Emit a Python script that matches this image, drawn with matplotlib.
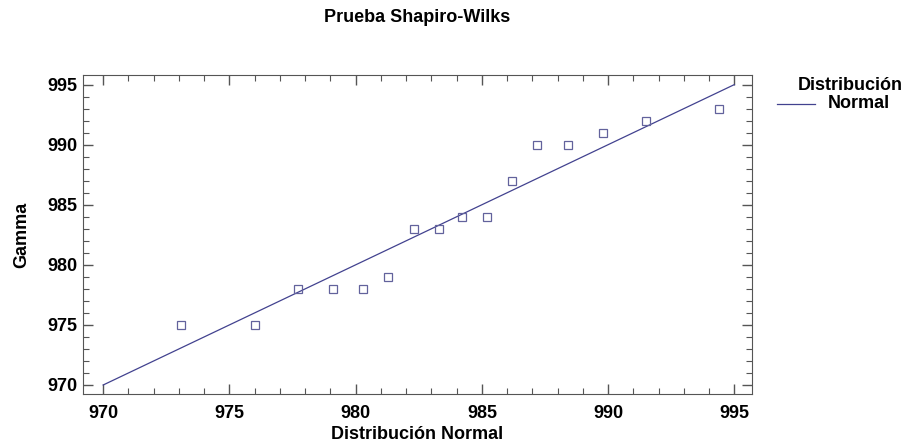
import matplotlib
matplotlib.use("Agg")
import matplotlib.pyplot as plt
from matplotlib.ticker import MultipleLocator

plt.rcParams["font.family"] = ["Liberation Sans", "DejaVu Sans"]
plt.rcParams["font.weight"] = "bold"

# normal quantiles (x) vs ordered sample (y)
dist_normal = [973.1, 976.0, 977.7, 979.1, 980.3, 981.3, 982.3, 983.3,
               984.2, 985.2, 986.2, 987.2, 988.4, 989.8, 991.5, 994.4]
gamma = [975, 975, 978, 978, 978, 979, 983, 983,
         984, 984, 987, 990, 990, 991, 992, 993]
ref_line = [970, 995]

fig = plt.figure(figsize=(9.1, 4.43), dpi=100)
ax = fig.add_axes([83 / 910, 1 - 394 / 443, (752 - 83) / 910, (394 - 75) / 443])

ax.plot(ref_line, ref_line, color="#42428f", lw=0.9)
ax.plot(dist_normal, gamma, ls="none", marker="s", ms=6, mfc="none",
        mec="#62629c", mew=0.9)

ax.set_xlim(969.2, 995.7)
ax.set_ylim(969.25, 995.8)
ax.xaxis.set_major_locator(MultipleLocator(5))
ax.xaxis.set_minor_locator(MultipleLocator(1))
ax.yaxis.set_major_locator(MultipleLocator(5))
ax.yaxis.set_minor_locator(MultipleLocator(1))
ax.tick_params(which="both", direction="in", top=True, right=True,
               color="#555555", labelsize=13)
ax.tick_params(which="major", length=7, width=1)
ax.tick_params(which="minor", length=4, width=0.8)
ax.tick_params(axis="x", which="major", pad=8)
ax.tick_params(axis="y", which="major", pad=4)
for sp in ax.spines.values():
    sp.set_color("#555555")

ax.set_xlabel("Distribución Normal", fontsize=13, fontweight="bold", labelpad=3)
ax.set_ylabel("Gamma", fontsize=13, fontweight="bold", labelpad=12)

fig.text(417 / 910, 1 - 17 / 443, "Prueba Shapiro-Wilks", ha="center",
         va="center", fontsize=13, fontweight="bold")

# legend
fig.text(850 / 910, 1 - 86 / 443, "Distribución", ha="center", va="center",
         fontsize=13, fontweight="bold")
fig.lines.append(plt.Line2D([777 / 910, 815 / 910], [1 - 104 / 443, 1 - 104 / 443],
                            transform=fig.transFigure, color="#42428f", lw=0.9))
fig.text(828 / 910, 1 - 103 / 443, "Normal", ha="left", va="center",
         fontsize=13, fontweight="bold")

fig.savefig("out.png", dpi=100)
